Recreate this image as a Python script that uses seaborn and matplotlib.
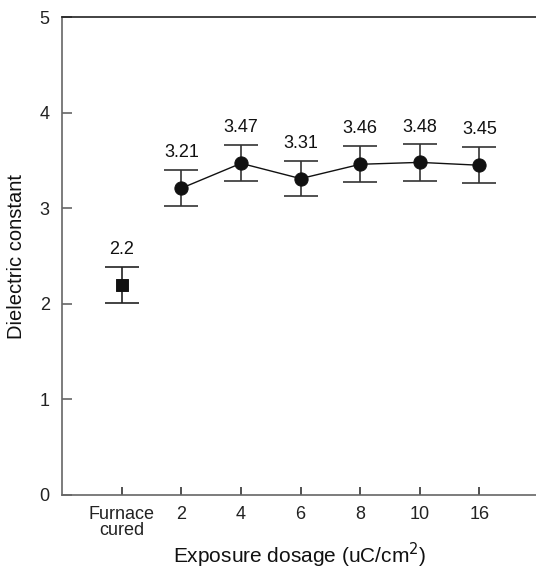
import matplotlib
matplotlib.use("Agg")
import matplotlib.pyplot as plt
import seaborn as sns
import pandas as pd
import numpy as np

categories = ["Furnace\ncured", "2", "4", "6", "8", "10", "16"]
furnace_value = [2.2]
dose_values = [3.21, 3.47, 3.31, 3.46, 3.48, 3.45]
furnace_err = [0.19]
dose_err = [0.19, 0.19, 0.18, 0.19, 0.19, 0.19]
value_labels = ["2.2", "3.21", "3.47", "3.31", "3.46", "3.48", "3.45"]

sns.set_theme(style="white")
plt.rcParams['font.family'] = ['Liberation Sans', 'DejaVu Sans']

fig = plt.figure(figsize=(5.36, 5.70), dpi=100)
ax = fig.add_axes([0.1162, 0.1316, 0.8838, 0.8384])

pos = np.arange(len(categories))
df_f = pd.DataFrame({"x": pos[:1], "y": furnace_value, "e": furnace_err})
df_d = pd.DataFrame({"x": pos[1:], "y": dose_values, "e": dose_err})

ax.errorbar(df_f["x"], df_f["y"], yerr=df_f["e"], fmt="none", ecolor="#222222",
            elinewidth=1.2, capsize=12, capthick=1.2, zorder=2)
ax.errorbar(df_d["x"], df_d["y"], yerr=df_d["e"], fmt="none", ecolor="#333333",
            elinewidth=1.2, capsize=12, capthick=1.2, zorder=2)
sns.lineplot(data=df_d, x="x", y="y", ax=ax, color="#111111", lw=1.0,
             marker="o", markersize=9.5, markeredgecolor="#111111",
             markerfacecolor="#111111", zorder=3)
sns.scatterplot(data=df_f, x="x", y="y", ax=ax, marker="s", s=70,
                color="#111111", edgecolor="#111111", zorder=3)

allv = furnace_value + dose_values
for x, v, lab in zip(pos, allv, value_labels):
    ax.text(x, v + 0.37, lab, ha="center", va="center", fontsize=13, color="#111111")

ax.set_xlim(-1, 6.95)
ax.set_ylim(0, 5)
ax.set_xticks(pos)
ax.set_xticklabels(categories, linespacing=0.95)
ax.set_yticks([0, 1, 2, 3, 4, 5])
ax.tick_params(axis="both", direction="in", labelsize=13, colors="#222222",
               bottom=True, left=True)
ax.tick_params(axis="y", length=7, width=1.2, color="#666666", pad=9)
ax.tick_params(axis="x", length=6, width=1.2, color="#333333", pad=8)
ax.set_xlabel("Exposure dosage (uC/cm$^2$)", fontsize=15, color="#111111", labelpad=1)
ax.set_ylabel("Dielectric constant", fontsize=14.5, color="#111111", labelpad=10)

for s in ["left", "bottom"]:
    ax.spines[s].set_color("#666666")
    ax.spines[s].set_linewidth(1.2)
ax.spines["top"].set_color("#222222")
ax.spines["top"].set_linewidth(1.2)
ax.spines["right"].set_visible(False)
if ax.get_legend():
    ax.get_legend().remove()

fig.savefig("out.png", dpi=100)
